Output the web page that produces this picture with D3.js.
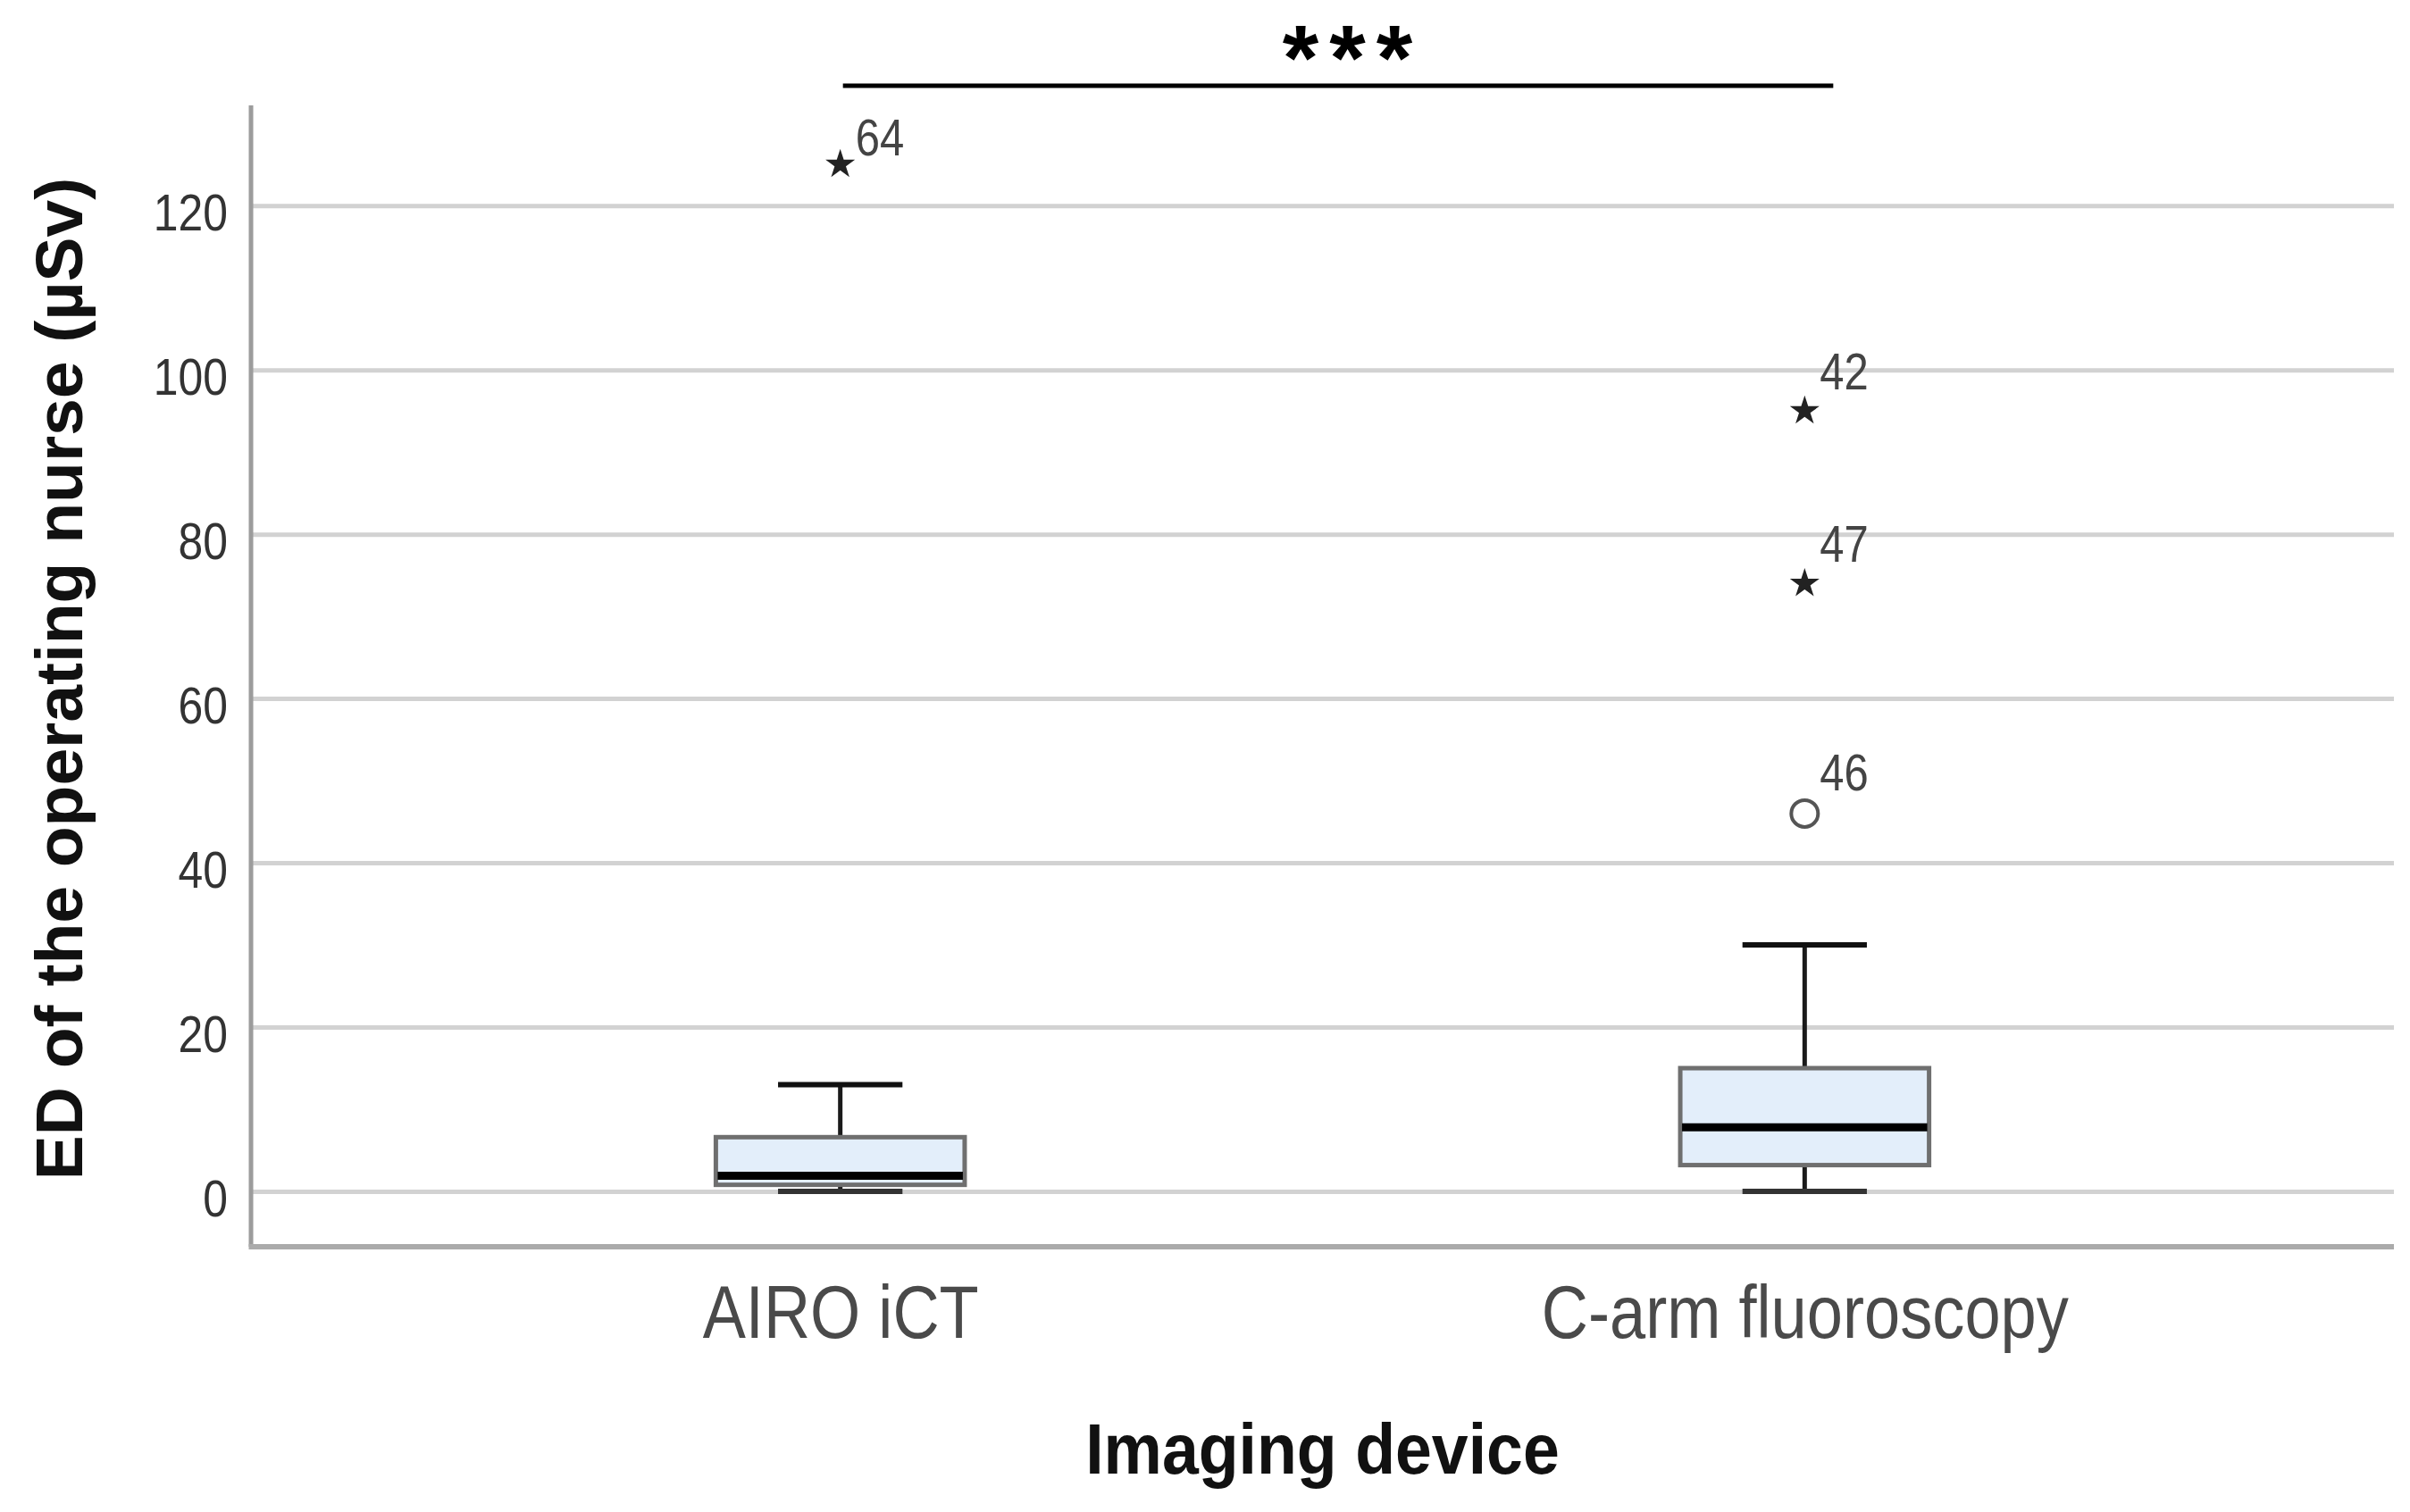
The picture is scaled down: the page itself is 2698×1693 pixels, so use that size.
<!DOCTYPE html>
<html>
<head>
<meta charset="utf-8">
<script src="https://cdn.jsdelivr.net/npm/d3@7/dist/d3.min.js"></script>
<style>
  html, body { margin: 0; padding: 0; background: #ffffff; }
  svg { display: block; }
  text { font-family: "Liberation Sans", Arial, sans-serif; }
</style>
</head>
<body>
<svg id="chart" width="2698" height="1693"></svg>
<script>
// ---------- data ----------
const categories = ["AIRO iCT", "C-arm fluoroscopy"];
const whiskerLow  = [0, 0];
const q1          = [0.8, 3.2];
const median      = [1.9, 7.8];
const q3          = [6.6, 15];
const whiskerHigh = [13, 30];

const outlierGroup = ["AIRO iCT", "C-arm fluoroscopy", "C-arm fluoroscopy", "C-arm fluoroscopy"];
const outlierValue = [125, 95, 74, 46];
const outlierId    = ["64", "42", "47", "46"];
const outlierKind  = ["extreme", "extreme", "extreme", "mild"];

const yTicks = [0, 20, 40, 60, 80, 100, 120];
const yTitle = "ED of the operating nurse (µSv)";
const xTitle = "Imaging device";
const significance = "***";

// ---------- layout ----------
const W = 2698, H = 1693;
const plot = { left: 281, right: 2680, top: 118, bottom: 1396 };
const SX = 0.86; // horizontal text squeeze seen in the reference
const labelNudgeY = [-10, -24, -24, -26]; // outlier label placement (layout only)

const svg = d3.select("#chart");

const x = d3.scalePoint().domain(categories).range([plot.left, plot.right]).padding(0.611);
const y = d3.scaleLinear().domain([-6.74, 132.2]).range([plot.bottom, plot.top]);

const boxW = x.step() * 0.258;
const capW = boxW * 0.5;

// gridlines + tick labels
const yAxis = d3.axisLeft(y).tickValues(yTicks).tickSize(-(plot.right - plot.left)).tickPadding(0);
const gy = svg.append("g").attr("transform", `translate(${plot.left},0)`).call(yAxis);
gy.select(".domain").remove();
gy.selectAll(".tick line").attr("stroke", "#d2d2d2").attr("stroke-width", 5);
gy.selectAll(".tick text")
  .attr("x", -26 / SX)
  .attr("dy", 27)
  .attr("transform", `scale(${SX},1)`)
  .attr("fill", "#333")
  .attr("font-size", 58)
  .attr("font-family", "'Liberation Sans', Arial, sans-serif");

// axes frame
svg.append("line")
  .attr("x1", plot.left).attr("x2", plot.left)
  .attr("y1", plot.top).attr("y2", plot.bottom)
  .attr("stroke", "#9c9c9c").attr("stroke-width", 5);
svg.append("line")
  .attr("x1", plot.left - 2.5).attr("x2", plot.right)
  .attr("y1", plot.bottom).attr("y2", plot.bottom)
  .attr("stroke", "#ababab").attr("stroke-width", 6);

// category labels
const xAxis = d3.axisBottom(x).tickSize(0).tickPadding(0);
const gx = svg.append("g").attr("transform", `translate(0,${plot.bottom})`).call(xAxis);
gx.select(".domain").remove();
gx.selectAll(".tick text")
  .attr("y", 102)
  .attr("dy", 0)
  .attr("transform", `scale(${SX},1)`)
  .attr("fill", "#4a4a4a")
  .attr("font-size", 84)
  .attr("font-family", "'Liberation Sans', Arial, sans-serif");

// boxes
const boxes = categories.map((c, i) => ({
  c, lo: whiskerLow[i], q1: q1[i], med: median[i], q3: q3[i], hi: whiskerHigh[i]
}));
const bg = svg.append("g").selectAll("g").data(boxes).join("g");

// whisker stems
bg.append("line")
  .attr("x1", d => x(d.c)).attr("x2", d => x(d.c))
  .attr("y1", d => y(d.hi)).attr("y2", d => y(d.q3))
  .attr("stroke", "#1a1a1a").attr("stroke-width", 5);
bg.append("line")
  .attr("x1", d => x(d.c)).attr("x2", d => x(d.c))
  .attr("y1", d => y(d.q1)).attr("y2", d => y(d.lo))
  .attr("stroke", "#1a1a1a").attr("stroke-width", 5);
// caps
bg.append("line")
  .attr("x1", d => x(d.c) - capW / 2).attr("x2", d => x(d.c) + capW / 2)
  .attr("y1", d => y(d.hi)).attr("y2", d => y(d.hi))
  .attr("stroke", "#111").attr("stroke-width", 6);
bg.append("line")
  .attr("x1", d => x(d.c) - capW / 2).attr("x2", d => x(d.c) + capW / 2)
  .attr("y1", d => y(d.lo)).attr("y2", d => y(d.lo))
  .attr("stroke", "#333").attr("stroke-width", 6);
// box
bg.append("rect")
  .attr("x", d => x(d.c) - boxW / 2)
  .attr("width", boxW)
  .attr("y", d => y(d.q3))
  .attr("height", d => y(d.q1) - y(d.q3))
  .attr("fill", "#e3eefa")
  .attr("stroke", "#6f6f6f").attr("stroke-width", 5);
// median
bg.append("line")
  .attr("x1", d => x(d.c) - boxW / 2 + 2).attr("x2", d => x(d.c) + boxW / 2 - 2)
  .attr("y1", d => y(d.med)).attr("y2", d => y(d.med))
  .attr("stroke", "#000").attr("stroke-width", 9);

// outliers
const outliers = outlierValue.map((v, i) => ({
  c: outlierGroup[i], v, id: outlierId[i], kind: outlierKind[i], ny: labelNudgeY[i]
}));
const og = svg.append("g").selectAll("g").data(outliers).join("g")
  .attr("transform", d => `translate(${x(d.c)},${y(d.v)})`);
og.filter(d => d.kind === "extreme").append("path")
  .attr("d", d3.symbol().type(d3.symbolStar).size(340))
  .attr("fill", "#222");
og.filter(d => d.kind === "mild").append("circle")
  .attr("r", 15)
  .attr("fill", "none")
  .attr("stroke", "#555").attr("stroke-width", 4);
og.append("text")
  .attr("transform", d => `translate(17,${d.ny}) scale(${SX},1)`)
  .attr("font-size", 57)
  .attr("fill", "#444")
  .text(d => d.id);

// significance bar
const x0 = x(categories[0]), x1 = x(categories[1]);
svg.append("line")
  .attr("x1", x0 + 3).attr("x2", x1 + 32)
  .attr("y1", 96).attr("y2", 96)
  .attr("stroke", "#000").attr("stroke-width", 5);
svg.append("text")
  .attr("x", (x0 + x1) / 2 + 34)
  .attr("y", 101)
  .attr("text-anchor", "middle")
  .attr("font-size", 104)
  .attr("font-weight", "bold")
  .attr("letter-spacing", 12)
  .attr("fill", "#000")
  .text(significance);

// axis titles
svg.append("text")
  .attr("transform", `translate(${(plot.left + plot.right) / 2},1650) scale(0.93,1)`)
  .attr("text-anchor", "middle")
  .attr("font-size", 79)
  .attr("font-weight", "bold")
  .attr("fill", "#111")
  .text(xTitle);

svg.append("text")
  .attr("transform", `translate(92,760) rotate(-90)`)
  .attr("text-anchor", "middle")
  .attr("font-size", 75)
  .attr("font-weight", "bold")
  .attr("fill", "#111")
  .text(yTitle);
</script>
</body>
</html>
